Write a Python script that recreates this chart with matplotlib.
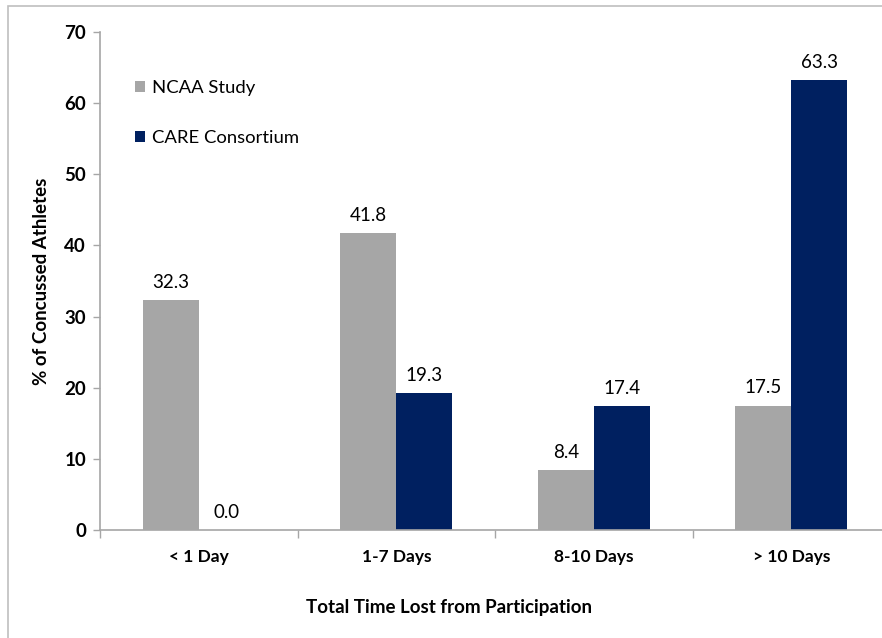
import numpy as np
import matplotlib as mpl
mpl.use("Agg")
import matplotlib.pyplot as plt
from matplotlib.patches import Rectangle

plt.rcParams['font.family'] = ['Lato', 'DejaVu Sans']

categories = ['< 1 Day', '1-7 Days', '8-10 Days', '> 10 Days']
ncaa = [32.3, 41.8, 8.4, 17.5]
care = [0.0, 19.3, 17.4, 63.3]
series_names = ['NCAA Study', 'CARE Consortium']
colors = ['#A6A6A6', '#002060']

fig = plt.figure(figsize=(8.82, 6.38), dpi=100)
ax = fig.add_axes([100 / 882, 108 / 638, 790 / 882, 498 / 638])

# outer chart frame (cut off on the right and bottom)
fig.patches.append(Rectangle((8 / 882, -0.05), 2, 1.05 - 6 / 638,
                             transform=fig.transFigure, fill=False,
                             edgecolor='#BFBFBF', linewidth=1.2))

x = np.arange(len(categories))
w = 0.284
b1 = ax.bar(x - w / 2, ncaa, w, color=colors[0], label=series_names[0])
b2 = ax.bar(x + w / 2, care, w, color=colors[1], label=series_names[1])

for bars in (b1, b2):
    for r in bars:
        ax.annotate(f'{r.get_height():.1f}', (r.get_x() + r.get_width() / 2, r.get_height()),
                    xytext=(0, 6.5), textcoords='offset points', ha='center', va='bottom',
                    fontsize=13.5)

ax.set_xlim(-0.5, len(categories) - 0.5)
ax.set_ylim(0, 70)
ax.set_yticks(range(0, 71, 10))
ax.set_xticks(x)
ax.set_xticklabels(categories, fontsize=12.5, fontweight='bold')
ax.set_xticks(np.arange(-0.5, len(categories), 1), minor=True)
ax.tick_params(axis='x', which='major', length=0, pad=14)
ax.tick_params(axis='x', which='minor', length=6, color='#A6A6A6', width=1)
ax.tick_params(axis='y', length=5, color='#A6A6A6', width=1, labelsize=13.5, pad=5)
for t in ax.get_yticklabels():
    t.set_fontweight('bold')

for s in ['top', 'right']:
    ax.spines[s].set_visible(False)
for s in ['left', 'bottom']:
    ax.spines[s].set_color('#A6A6A6')
    ax.spines[s].set_linewidth(1.2)

ax.set_ylabel('% of Concussed Athletes', fontsize=13.5, fontweight='bold', labelpad=10)
fig.text(449 / 882, 1 - 607 / 638, 'Total Time Lost from Participation', ha='center',
         va='center', fontsize=13.5, fontweight='bold')

ax.legend(loc='upper left', bbox_to_anchor=(0.035, 0.918), frameon=False, fontsize=13.3,
          handlelength=0.55, handleheight=0.55, handletextpad=0.35, labelspacing=1.85,
          borderaxespad=0)

fig.savefig('out.png', dpi=100)
